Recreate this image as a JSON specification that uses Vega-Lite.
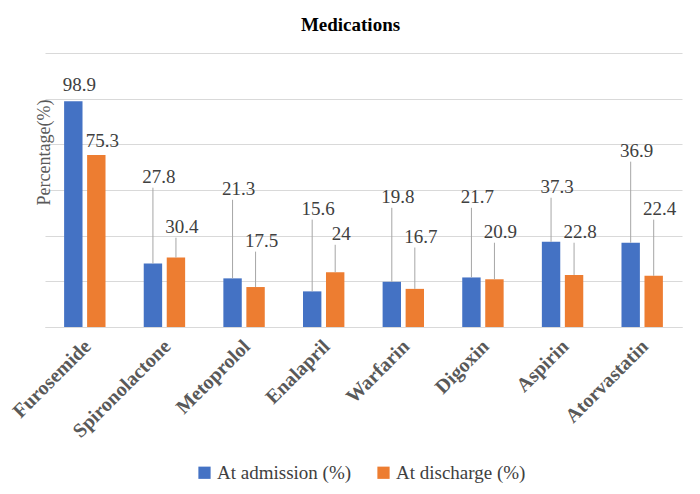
{
  "$schema": "https://vega.github.io/schema/vega-lite/v6.json",
  "autosize": {"type": "none"},
  "width": 637,
  "height": 274,
  "padding": {"left": 45, "top": 53, "right": 18, "bottom": 167},
  "background": "white",
  "config": {"view": {"stroke": null}, "font": "Times New Roman, Liberation Serif, serif"},
  "title": {"text": "Medications", "font": "Times New Roman, Liberation Serif, serif", "fontSize": 19, "fontWeight": "bold", "color": "#000000", "anchor": "middle", "dx": -13, "offset": 18},
  "data": {"values": [
    {"Medication": "Furosemide", "Series": "At admission (%)", "value": 98.9, "label_at": 103.2},
    {"Medication": "Furosemide", "Series": "At discharge (%)", "value": 75.3, "label_at": 79.0},
    {"Medication": "Spironolactone", "Series": "At admission (%)", "value": 27.8, "label_at": 63.2},
    {"Medication": "Spironolactone", "Series": "At discharge (%)", "value": 30.4, "label_at": 41.3},
    {"Medication": "Metoprolol", "Series": "At admission (%)", "value": 21.3, "label_at": 57.9},
    {"Medication": "Metoprolol", "Series": "At discharge (%)", "value": 17.5, "label_at": 35.2},
    {"Medication": "Enalapril", "Series": "At admission (%)", "value": 15.6, "label_at": 49.2},
    {"Medication": "Enalapril", "Series": "At discharge (%)", "value": 24, "label_at": 38.2},
    {"Medication": "Warfarin", "Series": "At admission (%)", "value": 19.8, "label_at": 54.4},
    {"Medication": "Warfarin", "Series": "At discharge (%)", "value": 16.7, "label_at": 37.0},
    {"Medication": "Digoxin", "Series": "At admission (%)", "value": 21.7, "label_at": 54.4},
    {"Medication": "Digoxin", "Series": "At discharge (%)", "value": 20.9, "label_at": 39.1},
    {"Medication": "Aspirin", "Series": "At admission (%)", "value": 37.3, "label_at": 58.8},
    {"Medication": "Aspirin", "Series": "At discharge (%)", "value": 22.8, "label_at": 39.1},
    {"Medication": "Atorvastatin", "Series": "At admission (%)", "value": 36.9, "label_at": 74.6},
    {"Medication": "Atorvastatin", "Series": "At discharge (%)", "value": 22.4, "label_at": 49.2}
  ]},
  "encoding": {
    "x": {"field": "Medication", "type": "nominal", "sort": null,
      "scale": {"paddingInner": 0.48, "paddingOuter": 0.24},
      "axis": {"title": null, "labelAngle": -45, "labelAlign": "right", "labelBaseline": "middle", "labelFont": "Times New Roman, Liberation Serif, serif", "labelFontSize": 20, "labelFontWeight": "bold", "labelColor": "#595959", "ticks": false, "domainColor": "#d9d9d9", "labelPadding": 16, "labelOffset": 3, "labelLimit": 300}},
    "xOffset": {"field": "Series", "type": "nominal", "sort": null, "scale": {"paddingInner": 0.2}}
  },
  "layer": [
    {
      "mark": {"type": "bar"},
      "encoding": {
        "y": {"field": "value", "type": "quantitative", "scale": {"domain": [0, 120]},
          "axis": {"title": "Percentage(%)", "labels": false, "ticks": false, "domain": false, "grid": true, "values": [0, 20, 40, 60, 80, 100, 120], "gridColor": "#d9d9d9", "titleFont": "Times New Roman, Liberation Serif, serif", "titleFontSize": 18, "titleFontWeight": "normal", "titleColor": "#595959", "titleX": -1, "titleY": 99, "titleAngle": -90, "titleBaseline": "middle", "titleAlign": "center"}},
        "color": {"field": "Series", "type": "nominal", "sort": null,
          "scale": {"range": ["#4472C4", "#ED7D31"]},
          "legend": {"title": null, "orient": "none", "legendX": 150, "legendY": 410, "direction": "horizontal", "symbolType": "square", "symbolSize": 150, "symbolStrokeWidth": 0, "labelFont": "Times New Roman, Liberation Serif, serif", "labelFontSize": 19, "labelColor": "#404040", "columnPadding": 22, "labelOffset": 3}}
      }
    },
    {
      "transform": [{"filter": "datum.label_at - datum.value > 5"}],
      "mark": {"type": "rule", "color": "#a6a6a6", "strokeWidth": 1, "xOffset": 6, "y2Offset": 5},
      "encoding": {
        "y": {"field": "value", "type": "quantitative"},
        "y2": {"field": "label_at"}
      }
    },
    {
      "mark": {"type": "text", "baseline": "alphabetic", "dx": 6, "font": "Times New Roman, Liberation Serif, serif", "fontSize": 19, "color": "#404040"},
      "encoding": {
        "y": {"field": "label_at", "type": "quantitative"},
        "text": {"field": "value", "type": "quantitative", "format": ""}
      }
    }
  ]
}
